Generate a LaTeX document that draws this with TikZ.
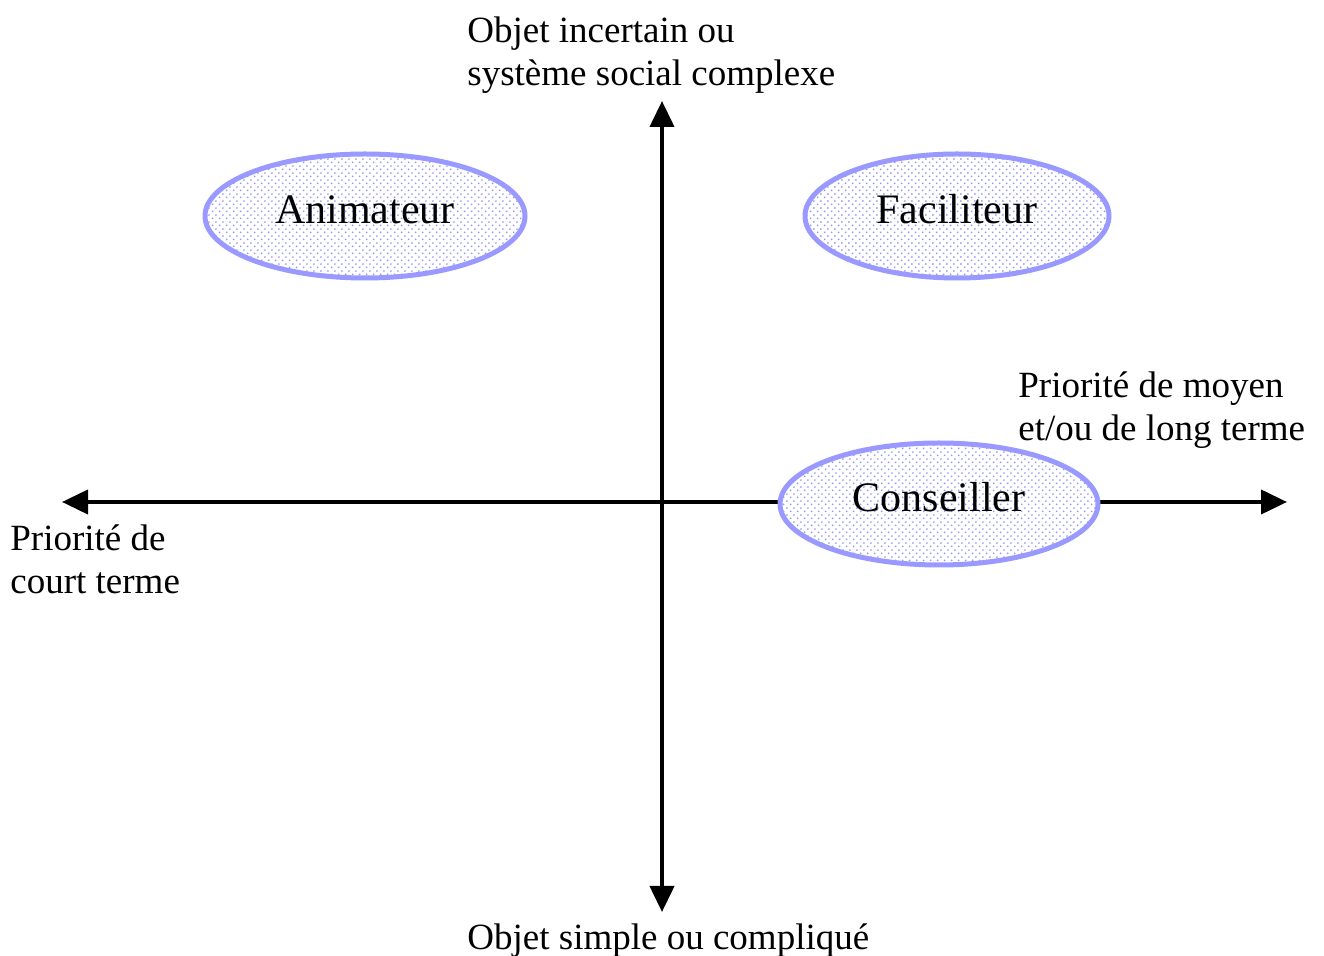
\documentclass[tikz,border=0pt]{standalone}
\usepackage{fontspec}
\setmainfont{Liberation Serif}
\usetikzlibrary{arrows.meta,patterns.meta,shapes.geometric}
\definecolor{rolefill}{RGB}{150,150,250}
\definecolor{roleline}{RGB}{153,153,255}
% staggered dot texture for the role ellipses
\tikzdeclarepattern{
  name=roledots, type=uncolored,
  bottom left={(0pt,0pt)}, top right={(3.4pt,3.4pt)},
  tile size={(3.4pt,3.4pt)},
  code={
    \fill (0.85pt,0.85pt) circle (0.5pt);
    \fill (2.55pt,2.55pt) circle (0.5pt);
  }
}
\tikzset{
  axis/.style={line width=2pt,-{Triangle[length=13pt,width=12pt]}},
  role/.style={ellipse,draw=roleline,line width=2.5pt,preaction={fill=white},
    pattern=roledots,pattern color=rolefill,font=\fontsize{21}{24}\selectfont,
    inner sep=0pt,text height=10pt,text depth=2pt},
  lbl/.style={font=\fontsize{18.5}{21.5}\selectfont,align=left,inner sep=0pt,anchor=base west}
}
\begin{document}
\begin{tikzpicture}[x=0.5pt,y=-0.5pt]
\useasboundingbox (0,0) rectangle (1324,956);
% axes
\coordinate (o) at (662,502);
\coordinate (top) at (662,101);
\coordinate (bot) at (662,912);
\coordinate (left) at (62,502);
\coordinate (right) at (1287,502);
\draw[axis] (o) -- (top);
\draw[axis] (o) -- (bot);
\draw[axis] (o) -- (left);
\draw[axis] (o) -- (right);
% roles
\node[role,minimum width=160pt,minimum height=62pt] (anim) at (365,216) {Animateur};
\node[role,minimum width=152pt,minimum height=62pt] (facil) at (957,216) {Faciliteur};
\node[role,minimum width=159pt,minimum height=61pt] (cons) at (939,504) {Conseiller};
% axis labels (anchored on the baseline of the last line)
\node[lbl] (ltop) at (467,86) {Objet incertain ou\\système social complexe};
\node[lbl] (lright) at (1018,441) {Priorité de moyen\\et/ou de long terme};
\node[lbl] (lleft) at (10,594) {Priorité de\\court terme};
\node[lbl] (lbot) at (467,950) {Objet simple ou compliqué};
\end{tikzpicture}
\end{document}
